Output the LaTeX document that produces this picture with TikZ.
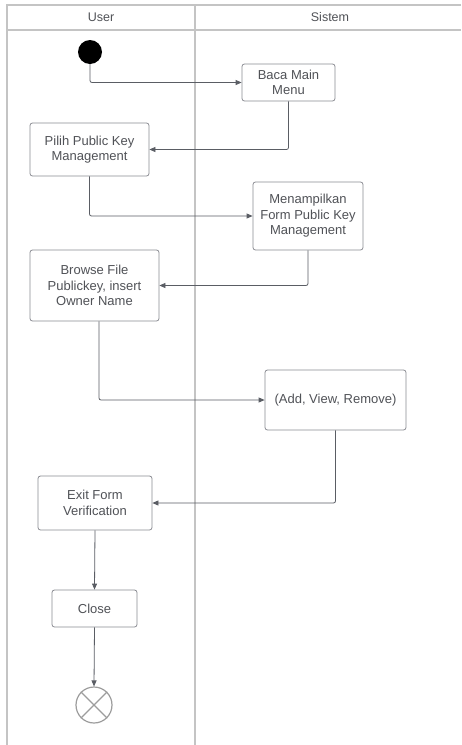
\documentclass[tikz,border=0pt]{standalone}
\usepackage{fontspec}
\setmainfont{Liberation Sans}
\usetikzlibrary{arrows.meta}
\definecolor{lanecol}{HTML}{C4C4C4}
\definecolor{boxcol}{HTML}{8A8C92}
\definecolor{txtcol}{HTML}{505257}
\definecolor{arrcol}{HTML}{5A5D64}
\begin{document}
\begin{tikzpicture}[x=1pt,y=-1pt,
  lane/.style={draw=lanecol,line width=1.4pt},
  act/.style={draw=boxcol,line width=0.8pt,rounded corners=2.5pt,fill=white},
  lbl/.style={text=txtcol,font=\fontsize{13}{15.5}\selectfont,align=center},
  head/.style={text=txtcol,font=\fontsize{12.5}{15}\selectfont},
  flow/.style={draw=arrcol,line width=0.8pt,rounded corners=2pt,-{Triangle[length=6pt,width=5pt]}}]
\useasboundingbox[fill=white] (0,0) rectangle (461,745);
% swimlane frame
\draw[lane] (461,5) -- (7,5) -- (7,745);
\draw[lane] (7,30) -- (461,30);
\draw[lane] (195,5) -- (195,745);
\node[head] (hu) at (101,17) {User};
\node[head] (hs) at (330,17) {Sistem};
% start and end
\node[circle,fill=black,minimum size=24pt,inner sep=0pt] (start) at (90,52) {};
\node[circle,draw=lanecol!80!black,line width=1.2pt,minimum size=36pt,inner sep=0pt] (stop) at (94,705) {};
\draw[lanecol!80!black,line width=1.2pt] (stop.north east) -- (stop.south west) (stop.north west) -- (stop.south east);
% activities
\node[act,minimum width=93pt,minimum height=37pt] (baca) at (288.5,82.5) {};
\node[lbl] at (baca) {Baca Main\\Menu};
\node[act,minimum width=119pt,minimum height=53pt] (pilih) at (89.5,149.5) {};
\node[lbl] at (pilih) {Pilih Public Key\\Management};
\node[act,minimum width=110pt,minimum height=68pt] (form) at (308,216) {};
\node[lbl] at (form) {Menampilkan\\Form Public Key\\Management};
\node[act,minimum width=129pt,minimum height=71pt] (browse) at (94.5,285.5) {};
\node[lbl] at (browse) {Browse File\\Publickey, insert\\Owner Name};
\node[act,minimum width=141pt,minimum height=60pt] (avr) at (335.5,400) {};
\node[lbl] at (avr) {(Add, View, Remove)};
\node[act,minimum width=114pt,minimum height=54pt] (exit) at (95,503) {};
\node[lbl] at (exit) {Exit Form\\Verification};
\node[act,minimum width=85pt,minimum height=37pt] (close) at (94.5,608.5) {};
\node[lbl] at (close) {Close};
% control flow
\draw[flow] (start.south) |- (baca.west);
\draw[flow] (baca.south) |- (pilih.east);
\draw[flow] (pilih.south) |- (form.west);
\draw[flow] (form.south) |- (browse.east);
\draw[flow] (browse.south -| 99,0) |- (avr.west);
\draw[flow] (avr.south) |- (exit.east);
\draw[flow] (exit.south) -- (close.north);
\draw[flow] (close.south) -- (stop.north);
\end{tikzpicture}
\end{document}
